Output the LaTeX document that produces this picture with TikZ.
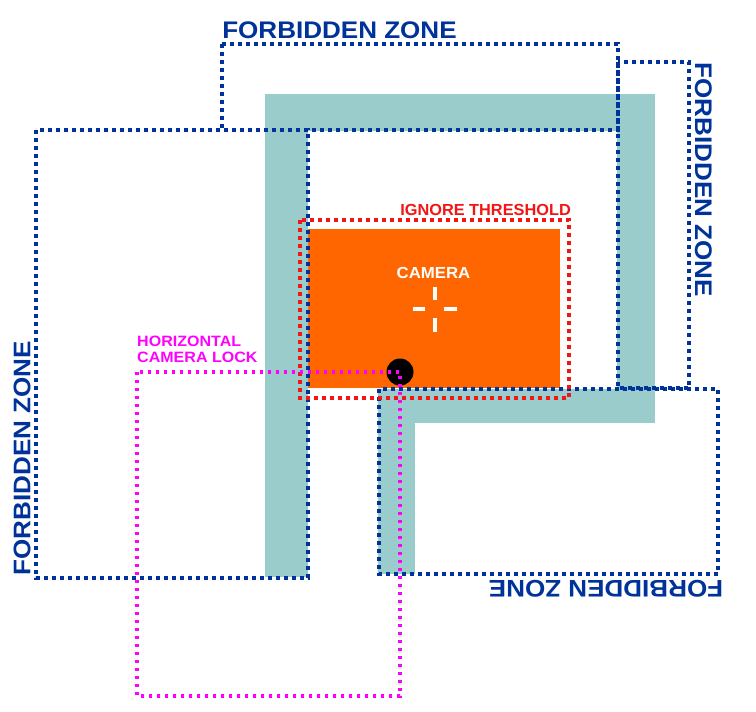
\documentclass[tikz,border=0pt]{standalone}
\usepackage{fontspec}
\setmainfont{Liberation Sans}
\usepackage{graphicx}
\definecolor{zoneblue}{HTML}{003399}
\definecolor{tealbar}{HTML}{9BCCCC}
\definecolor{camorange}{HTML}{FF6600}
\definecolor{threshred}{HTML}{F41414}
\definecolor{lockpink}{HTML}{FF00FF}
\tikzset{
  zonebox/.style={draw=zoneblue, line width=3.6pt, dash pattern=on 3.6pt off 4.4pt},
  threshbox/.style={draw=threshred, line width=3.6pt, dash pattern=on 3.6pt off 4.4pt},
  lockbox/.style={draw=lockpink, line width=3.4pt, dash pattern=on 3.4pt off 4.6pt},
  zonelabel/.style={inner sep=0pt, text=zoneblue, font=\fontsize{24}{28}\selectfont\bfseries},
  smalllabel/.style={inner sep=0pt, font=\fontsize{16}{16}\selectfont\bfseries},
  crosstick/.style={draw=white, line width=4pt}
}
\begin{document}
\begin{tikzpicture}[x=1pt,y=-1pt]
\useasboundingbox[fill=white] (0,0) rectangle (756,712);
% teal walls
\fill[tealbar] (265,94) rectangle (308,577);
\fill[tealbar] (265,94) rectangle (655,131);
\fill[tealbar] (617,94) rectangle (655,423);
\fill[tealbar] (378,389) rectangle (655,423);
\fill[tealbar] (378,389) rectangle (415,574);
% camera area
\fill[camorange] (308,229) rectangle (560,388);
% forbidden zones
\draw[zonebox] (222,44) rectangle (618,130);
\draw[zonebox] (36,130) rectangle (308,578);
\draw[zonebox] (618,62) rectangle (689,388);
\draw[zonebox] (379,389) rectangle (718,574);
% ignore threshold
\draw[threshbox] (300,220) rectangle (569,398);
% camera cross
\draw[crosstick] (435,287) -- (435,300);
\draw[crosstick] (435,318) -- (435,332);
\draw[crosstick] (413,309) -- (425,309);
\draw[crosstick] (444,309) -- (457,309);
% lock point
\fill[black] (400,372) circle (13.5pt);
\draw[lockbox] (137,372) rectangle (400,696);
% labels
\node[zonelabel] (ztop) at (339.5,30) {\scalebox{1.085}[1]{FORBIDDEN ZONE}};
\node[zonelabel, rotate=-90] (zright) at (703.5,180) {\scalebox{1.085}[1]{FORBIDDEN ZONE}};
\node[zonelabel, rotate=90] (zleft) at (22,458) {\scalebox{1.085}[1]{FORBIDDEN ZONE}};
\node[zonelabel, rotate=180] (zbottom) at (606,588.5) {\scalebox{1.085}[1]{FORBIDDEN ZONE}};
\node[smalllabel, text=threshred, anchor=base east] (thresh) at (571,215) {\scalebox{1.02}[1]{IGNORE THRESHOLD}};
\node[smalllabel, text=white] (cam) at (433.5,272.5) {\scalebox{1.05}[1]{CAMERA}};
\node[smalllabel, text=lockpink, anchor=north west, align=left, font=\fontsize{15}{15.5}\selectfont\bfseries] (lock) at (137,336) {\scalebox{1.07}[1]{HORIZONTAL}\\\scalebox{1.07}[1]{CAMERA LOCK}};
\end{tikzpicture}
\end{document}
